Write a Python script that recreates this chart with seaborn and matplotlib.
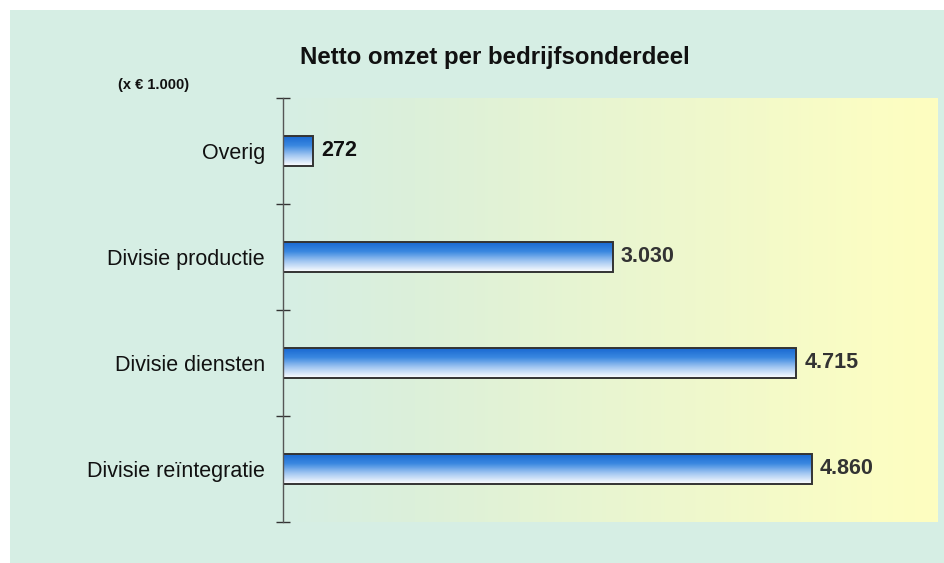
import numpy as np
import pandas as pd
import matplotlib
matplotlib.use("Agg")
import matplotlib.pyplot as plt
from matplotlib.colors import LinearSegmentedColormap
from matplotlib.patches import Rectangle
import seaborn as sns

# data
categories = ["Overig", "Divisie productie", "Divisie diensten", "Divisie reïntegratie"]
values = [272, 3030, 4715, 4860]
value_labels = ["272", "3.030", "4.715", "4.860"]

sns.set_style("white")
plt.rcParams["font.family"] = ["Liberation Sans", "DejaVu Sans"]

MINT = "#d6eee4"
df = pd.DataFrame({"onderdeel": categories, "omzet": values})

fig = plt.figure(figsize=(9.44, 5.63), dpi=100)
fig.patch.set_facecolor("white")
fig.patches.append(Rectangle((10 / 944, 0), 1, 1 - 10 / 563, transform=fig.transFigure,
                             facecolor=MINT, edgecolor="none", zorder=-10))

ax = fig.add_axes([283 / 944, 1 - 522 / 563, (937 - 283) / 944, (522 - 98) / 563])
ax.set_facecolor("none")

# achtergrond verloop mint -> geel
bg = LinearSegmentedColormap.from_list("bg", [(0, MINT), (0.2, "#dcf0da"), (0.9, "#fbfdc4"), (1, "#fefec0")])
ax.imshow(np.linspace(0, 1, 256).reshape(1, -1), cmap=bg, aspect="auto",
          extent=[0, 1, 0, 1], transform=ax.transAxes, zorder=0)

sns.barplot(data=df, x="omzet", y="onderdeel", orient="h", width=0.29,
            color="white", edgecolor="#333333", linewidth=1.4, ax=ax, zorder=2)

# verloop in de balken: blauw boven, wit onder
bar_cmap = LinearSegmentedColormap.from_list("bar", ["#1565d0", "#3a88e0", "#a6c9f2", "#ffffff"])
grad = np.linspace(0, 1, 128).reshape(-1, 1)
for p in ax.patches:
    x0, y0 = p.get_x(), p.get_y()
    w, h = p.get_width(), p.get_height()
    im = ax.imshow(grad, cmap=bar_cmap, aspect="auto",
                   extent=[x0, x0 + w, y0 + h, y0], zorder=2.5)
    im.set_clip_path(p)
    p.set_zorder(3)
    p.set_facecolor("none")

for i, (v, lab) in enumerate(zip(values, value_labels)):
    ax.text(v + 75, i, lab, va="center", ha="left", fontsize=15.5, fontweight="bold",
            color="#111111" if i == 0 else "#333333", zorder=4)

ax.set_xlim(0, 6010)
ax.set_ylim(3.5, -0.5)
ax.set_xlabel("")
ax.set_ylabel("")
ax.set_xticks([])
ax.set_yticks([-0.5, 0.5, 1.5, 2.5, 3.5])
ax.set_yticklabels([])
ax.set_yticks(range(4), minor=True)
ax.set_yticklabels(categories, minor=True, fontsize=15.5, color="#111111")
ax.tick_params(axis="y", which="minor", left=False, length=0, pad=13)
ax.tick_params(axis="y", which="major", left=True, direction="inout", length=10, width=1, color="#333333")
for s in ["top", "right", "bottom"]:
    ax.spines[s].set_visible(False)
ax.spines["left"].set_color("#555555")
ax.spines["left"].set_linewidth(1)
ax.spines["left"].set_zorder(5)

fig.text(495 / 944, 1 - 58 / 563, "Netto omzet per bedrijfsonderdeel", ha="center", va="center",
         fontsize=17.3, fontweight="bold", color="#111111")
fig.text(118 / 944, 1 - 85 / 563, "(x € 1.000)", ha="left", va="center",
         fontsize=10.5, fontweight="bold", color="#111111")

fig.savefig("out.png", dpi=100)
